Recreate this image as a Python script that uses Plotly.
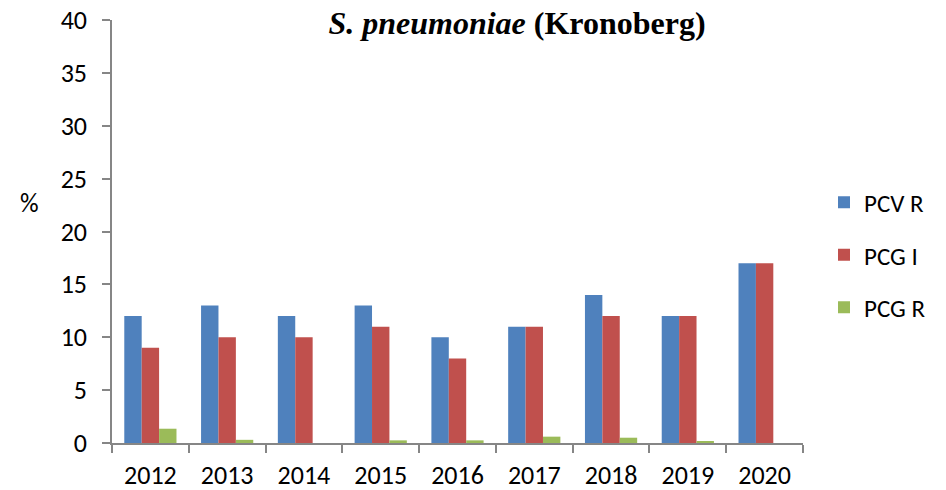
import plotly.graph_objects as go

years = ["2012", "2013", "2014", "2015", "2016", "2017", "2018", "2019", "2020"]
pcv_r = [12, 13, 12, 13, 10, 11, 14, 12, 17]
pcg_i = [9, 10, 10, 11, 8, 11, 12, 12, 17]
pcg_r = [1.35, 0.3, 0, 0.25, 0.25, 0.6, 0.5, 0.15, 0]
series_names = ["PCV R", "PCG I", "PCG R"]
colors = ["#4F81BD", "#C0504D", "#9BBB59"]

FONT = "Carlito, Open Sans, sans-serif"
FS = 26
W, H = 946, 490

fig = go.Figure()
for name, vals, col in zip(series_names, [pcv_r, pcg_i, pcg_r], colors):
    fig.add_trace(go.Bar(x=years, y=vals, name=name, legendgroup=name,
                         marker=dict(color=col, line=dict(width=0))))

fig.update_layout(
    width=W, height=H,
    margin=dict(l=112, r=143, t=20, b=47, autoexpand=False),
    plot_bgcolor="white", paper_bgcolor="white",
    barmode="group", bargap=0.32, bargroupgap=0,
    font=dict(family=FONT, size=FS, color="black"),
    showlegend=True,
    legend=dict(xref="container", yref="container", x=824 / W, y=1 - 255 / H,
                xanchor="left", yanchor="middle",
                font=dict(family=FONT, size=FS - 1, color="black"),
                tracegroupgap=17, itemwidth=30, bgcolor="rgba(0,0,0,0)"),
    title=dict(text="<i>S. pneumoniae</i> (Kronoberg)", x=517 / W, xanchor="center",
               y=1 - 23 / H, yanchor="middle",
               font=dict(family="Liberation Serif, Times New Roman, serif", size=32, color="black", weight="bold")),
)
fig.update_xaxes(showline=True, linecolor="#868686", linewidth=1.5, automargin=False,
                 ticks="outside", tickson="boundaries", ticklen=8, tickcolor="#868686", tickwidth=1.5,
                 showgrid=False, tickfont=dict(family=FONT, size=FS), ticklabelstandoff=8)
fig.update_yaxes(range=[0, 40], dtick=5, showline=True, linecolor="#868686", linewidth=1.5,
                 automargin=False, ticklabeloverflow="allow",
                 ticks="outside", ticklen=8, tickcolor="#868686", tickwidth=1.5,
                 showgrid=False, zeroline=False, tickfont=dict(family=FONT, size=FS),
                 ticklabelstandoff=10)
fig.add_annotation(text="%", xref="paper", yref="paper", x=-0.119, y=0.567,
                   xanchor="center", yanchor="middle", showarrow=False,
                   font=dict(family=FONT, size=FS, color="black"))
fig.write_html("out.html", config={"displayModeBar": False},
               post_script="document.body.style.margin='0';")
